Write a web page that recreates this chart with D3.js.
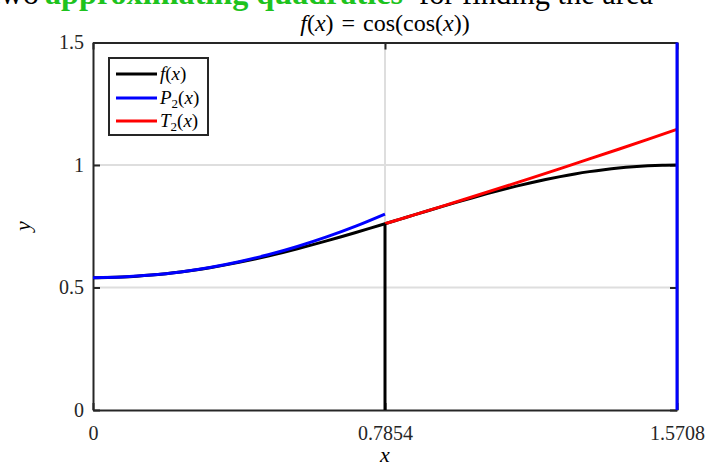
<!DOCTYPE html>
<html><head><meta charset="utf-8">
<script src="https://cdn.jsdelivr.net/npm/d3@7"></script>
<style>body{margin:0;background:#fff}svg{display:block}</style>
</head><body><svg id="c" width="706" height="466"></svg>
<script>
// f(x) = cos(cos(x)) sampled on [0, pi/2]
const fX = [0, 0.0393, 0.0785, 0.1178, 0.1571, 0.1963, 0.2356, 0.2749, 0.3142, 0.3534, 0.3927, 0.4320, 0.4712, 0.5105, 0.5498, 0.5890, 0.6283, 0.6676, 0.7069, 0.7461, 0.7854, 0.8247, 0.8639, 0.9032, 0.9425, 0.9817, 1.0210, 1.0603, 1.0996, 1.1388, 1.1781, 1.2174, 1.2566, 1.2959, 1.3352, 1.3744, 1.4137, 1.4530, 1.4923, 1.5315, 1.5708];
const fY = [0.5403, 0.5410, 0.5429, 0.5461, 0.5506, 0.5564, 0.5633, 0.5714, 0.5808, 0.5913, 0.6027, 0.6152, 0.6286, 0.6429, 0.6580, 0.6738, 0.6902, 0.7072, 0.7246, 0.7423, 0.7602, 0.7783, 0.7964, 0.8144, 0.8322, 0.8496, 0.8666, 0.8830, 0.8987, 0.9136, 0.9277, 0.9407, 0.9526, 0.9634, 0.9729, 0.9810, 0.9878, 0.9931, 0.9969, 0.9992, 1.0000];
// P2 on [0, pi/4]
const pX = [0, 0.0785, 0.1571, 0.2356, 0.3142, 0.3927, 0.4712, 0.5498, 0.6283, 0.7069, 0.7854];
const pY = [0.5403, 0.5429, 0.5507, 0.5637, 0.5818, 0.6052, 0.6337, 0.6675, 0.7064, 0.7505, 0.7998];
// T2 on [pi/4, pi/2]
const tX = [0.7854, 0.8639, 0.9425, 1.0210, 1.0996, 1.1781, 1.2566, 1.3352, 1.4137, 1.4923, 1.5708];
const tY = [0.7602, 0.7965, 0.8333, 0.8706, 0.9084, 0.9467, 0.9854, 1.0247, 1.0644, 1.1047, 1.1454];
// vertical boundary segments
const vX = [0.7854, 1.5708];
const vTop = [0.7602, 1.5781];
const xTicks = [0, 0.7854, 1.5708];
const xTickLabels = ["0", "0.7854", "1.5708"];
const yTicks = [0, 0.5, 1, 1.5];
const yTickLabels = ["0", "0.5", "1", "1.5"];
const legendLabels = [["f","(x)"],["P","2","(x)"],["T","2","(x)"]];
const captionParts = ["two", "approximating quadratics", "for finding the area"];

const svg = d3.select("#c");
const L = 93, R = 677, T = 42.5, B = 410;
const x = d3.scaleLinear().domain([0, 1.5708]).range([L, R]);
const y = d3.scaleLinear().domain([0, 1.5]).range([B, T]);
const serif = "'Liberation Serif','DejaVu Serif',serif";
const axisCol = "#262626";

// top caption (cut off at the top edge, as in the source)
svg.append("text").attr("x", 39).attr("y", 4).attr("text-anchor", "end")
  .attr("font-family", serif).attr("font-size", 32).text(captionParts[0]);
svg.append("text").attr("x", 45).attr("y", 4).attr("textLength", 358).attr("lengthAdjust", "spacingAndGlyphs")
  .attr("font-family", serif).attr("font-size", 32).attr("font-weight", "bold").attr("fill", "#1ec31e").text(captionParts[1]);
svg.append("text").attr("x", 419).attr("y", 4).attr("textLength", 234).attr("lengthAdjust", "spacingAndGlyphs")
  .attr("font-family", serif).attr("font-size", 32).text(captionParts[2]);

// title
const tt = svg.append("text").attr("x", (L+R)/2).attr("y", 31).attr("text-anchor", "middle").attr("font-family", serif).attr("font-size", 24).attr("fill", "#000");
tt.append("tspan").attr("font-style", "italic").text("f");
tt.append("tspan").text("(");
tt.append("tspan").attr("font-style", "italic").text("x");
tt.append("tspan").text(")\u2004=\u2004cos(cos(");
tt.append("tspan").attr("font-style", "italic").text("x");
tt.append("tspan").text("))");

// grid
svg.append("g").selectAll("line").data(yTicks.slice(1, -1)).join("line")
  .attr("x1", L).attr("x2", R).attr("y1", d => y(d)).attr("y2", d => y(d))
  .attr("stroke", "#dedede").attr("stroke-width", 2);
svg.append("g").selectAll("line").data(xTicks.slice(1, -1)).join("line")
  .attr("y1", T).attr("y2", B).attr("x1", d => x(d)).attr("x2", d => x(d))
  .attr("stroke", "#dedede").attr("stroke-width", 2);

// axes with inward ticks
const gx = svg.append("g").attr("transform", `translate(0,${B})`)
  .call(d3.axisBottom(x).tickValues(xTicks).tickFormat((d,i) => xTickLabels[i]).tickSizeInner(-7).tickSizeOuter(0).tickPadding(16));
const gy = svg.append("g").attr("transform", `translate(${L},0)`)
  .call(d3.axisLeft(y).tickValues(yTicks).tickFormat((d,i) => yTickLabels[i]).tickSizeInner(-7).tickSizeOuter(0).tickPadding(9));
const gxt = svg.append("g").attr("transform", `translate(0,${T})`)
  .call(d3.axisTop(x).tickValues(xTicks).tickFormat("").tickSizeInner(-7).tickSizeOuter(0));
const gyr = svg.append("g").attr("transform", `translate(${R},0)`)
  .call(d3.axisRight(y).tickValues(yTicks).tickFormat("").tickSizeInner(-7).tickSizeOuter(0));
[gx, gy, gxt, gyr].forEach(g => {
  g.select(".domain").attr("stroke", axisCol).attr("stroke-width", 2);
  g.selectAll(".tick line").attr("stroke", axisCol).attr("stroke-width", 2);
  g.selectAll(".tick text").attr("font-family", serif).attr("font-size", 20).attr("fill", "#262626");
});

// axis labels
svg.append("text").attr("x", (L+R)/2).attr("y", 462).attr("text-anchor", "middle")
  .attr("font-family", serif).attr("font-style", "italic").attr("font-size", 22).text("x");
svg.append("text").attr("transform", "translate(30,226) rotate(-90)").attr("text-anchor", "middle")
  .attr("font-family", serif).attr("font-style", "italic").attr("font-size", 22).text("y");

// clip
svg.append("clipPath").attr("id", "clip").append("rect").attr("x", 0).attr("y", T).attr("width", 706).attr("height", B - T);
const plot = svg.append("g").attr("clip-path", "url(#clip)");
const line = d3.line().x(d => x(d[0])).y(d => y(d[1])).curve(d3.curveMonotoneX);

plot.append("path").datum(fX.map((v,i) => [v, fY[i]])).attr("d", line)
  .attr("fill", "none").attr("stroke", "#000").attr("stroke-width", 3);
plot.append("path").datum(pX.map((v,i) => [v, pY[i]])).attr("d", line)
  .attr("fill", "none").attr("stroke", "#0000ff").attr("stroke-width", 3);
plot.append("path").datum(tX.map((v,i) => [v, tY[i]])).attr("d", line)
  .attr("fill", "none").attr("stroke", "#ff0000").attr("stroke-width", 3);
const vCols = ["#000", "#0000ff"];
plot.selectAll(".vseg").data(vX).join("line").attr("class", "vseg")
  .attr("x1", d => x(d)).attr("x2", d => x(d))
  .attr("y1", y(0)).attr("y2", (d,i) => y(vTop[i]))
  .attr("stroke", (d,i) => vCols[i]).attr("stroke-width", 3);

// legend
const lg = svg.append("g");
lg.append("rect").attr("x", 109).attr("y", 58).attr("width", 99).attr("height", 77)
  .attr("fill", "#fff").attr("stroke", axisCol).attr("stroke-width", 2);
const lCols = ["#000", "#0000ff", "#ff0000"];
const rowY = [74, 98, 121];
legendLabels.forEach((lab, i) => {
  lg.append("line").attr("x1", 116).attr("x2", 157).attr("y1", rowY[i]).attr("y2", rowY[i])
    .attr("stroke", lCols[i]).attr("stroke-width", 3);
  const t = lg.append("text").attr("x", 160).attr("y", rowY[i] + 6).attr("font-family", serif).attr("font-size", 19);
  t.append("tspan").attr("font-style", "italic").text(lab[0]);
  if (lab.length === 3) {
    t.append("tspan").attr("font-size", 13).attr("dy", 4).text(lab[1]);
    t.append("tspan").attr("dy", -4).text("(");
  } else {
    t.append("tspan").text("(");
  }
  t.append("tspan").attr("font-style", "italic").text("x");
  t.append("tspan").text(")");
});
</script></body></html>
